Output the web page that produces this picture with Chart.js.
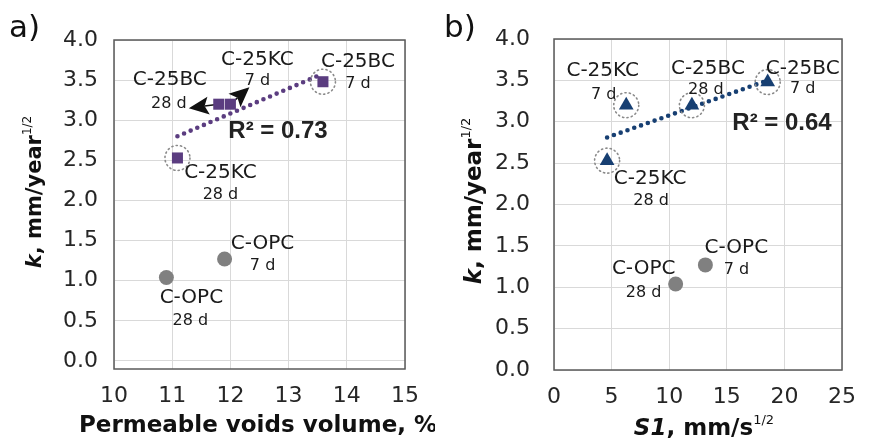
<!DOCTYPE html>
<html><head><meta charset="utf-8">
<script src="https://cdn.jsdelivr.net/npm/chart.js@4"></script>
<style>
html,body{margin:0;padding:0;background:#fff;}
#wrap{position:relative;width:870px;height:443px;overflow:hidden;}
.box{position:absolute;top:0;width:435px;height:443px;}
#boxA{left:0;} #boxB{left:435px;}
</style></head><body>
<div id="wrap">
  <div class="box" id="boxA"><canvas id="cA"></canvas></div>
  <div class="box" id="boxB"><canvas id="cB"></canvas></div>
</div>
<script>
// ---------------- data ----------------
const yTickValues = [0, 0.5, 1, 1.5, 2, 2.5, 3, 3.5, 4];
const yTickLabels = ['0.0','0.5','1.0','1.5','2.0','2.5','3.0','3.5','4.0'];
const xTickValuesA = [10, 11, 12, 13, 14, 15];
const xTickLabelsA = ['10','11','12','13','14','15'];
const xTickValuesB = [0, 5, 10, 15, 20, 25];
const xTickLabelsB = ['0','5','10','15','20','25'];

// C-25 series: order KC 28 d, BC 28 d, KC 7 d, BC 7 d
const c25Names = ['C-25KC', 'C-25BC', 'C-25KC', 'C-25BC'];
const c25Ages  = ['28 d', '28 d', '7 d', '7 d'];
const c25K     = [2.53, 3.20, 3.20, 3.48];
const c25Voids = [11.09, 11.80, 12.00, 13.59];
const c25S1    = [4.61, 11.97, 6.27, 18.55];

// C-OPC series: order 28 d, 7 d
const opcNames = ['C-OPC', 'C-OPC'];
const opcAges  = ['28 d', '7 d'];
const opcK     = [1.04, 1.27];
const opcVoids = [10.90, 11.90];
const opcS1    = [10.56, 13.14];

// trend lines (end points)
const trendVoidsX = [11.09, 13.59];
const trendVoidsK = [2.80, 3.58];
const trendS1X = [4.61, 18.55];
const trendS1K = [2.81, 3.50];

const r2TextA = 'R² = 0.73';
const r2TextB = 'R² = 0.64';

// ---------------- styling / annotation layout ----------------
const FONT = '"DejaVu Sans", "Liberation Sans", sans-serif';
const PURPLE = '#5b3d80';
const NAVY = '#173f72';
const GREY = '#808080';
Chart.defaults.font.family = FONT;

function pts(xs, ys){ return xs.map((x, i) => ({x: x, y: ys[i]})); }

const annotPlugin = {
  id: 'annot',
  beforeDatasetsDraw(chart){
    const c = chart.options.plugins.annot;
    const {ctx, chartArea: a} = chart;
    const xs = chart.scales.x, ys = chart.scales.y;
    ctx.save();
    ctx.strokeStyle = '#5a5a5a'; ctx.lineWidth = 1.5;
    ctx.strokeRect(a.left, a.top, a.right - a.left, a.bottom - a.top);
    ctx.restore();
    (c.arrows || []).forEach(ar => {
      const px = xs.getPixelForValue(c.groups[0].x[ar.i]);
      const py = ys.getPixelForValue(c.groups[0].k[ar.i]);
      const tx = px + ar.dx, ty = py + ar.dy;
      const ang = Math.atan2(ty - py, tx - px);
      const L = 20, W = 9;
      const cs = Math.cos(ang), sn = Math.sin(ang);
      const bx = tx - cs * L, by = ty - sn * L;
      const nx = tx - cs * L * 0.8, ny = ty - sn * L * 0.8;
      ctx.save();
      ctx.strokeStyle = '#111'; ctx.lineWidth = 1.5;
      ctx.beginPath(); ctx.moveTo(px, py); ctx.lineTo(nx, ny); ctx.stroke();
      ctx.fillStyle = '#111';
      ctx.beginPath();
      ctx.moveTo(tx, ty);
      ctx.lineTo(bx - sn * W, by + cs * W);
      ctx.lineTo(nx, ny);
      ctx.lineTo(bx + sn * W, by - cs * W);
      ctx.closePath(); ctx.fill();
      ctx.restore();
    });
  },
  beforeDatasetDraw(chart, args){
    if (args.meta && chart.data.datasets[args.index].ring){
      chart.ctx.save();
      chart.ctx.setLineDash([1.2, 3.2]);
      chart.ctx.lineCap = 'round';
    }
  },
  afterDatasetDraw(chart, args){
    if (args.meta && chart.data.datasets[args.index].ring){
      chart.ctx.restore();
    }
  },
  afterDraw(chart){
    const c = chart.options.plugins.annot;
    const {ctx, chartArea: a} = chart;
    const xs = chart.scales.x, ys = chart.scales.y;
    ctx.save();
    ctx.fillStyle = '#1a1a1a';
    ctx.textAlign = 'center'; ctx.textBaseline = 'middle';
    c.groups.forEach(g => {
      g.x.forEach((xv, i) => {
        const px = xs.getPixelForValue(xv), py = ys.getPixelForValue(g.k[i]);
        const o = g.off[i];
        ctx.font = '20px ' + FONT;
        ctx.fillText(g.names[i], px + o[0], py + o[1]);
        ctx.font = '16px ' + FONT;
        ctx.fillText(g.ages[i], px + o[2], py + o[3]);
      });
    });
    // R squared
    ctx.font = 'bold 24px "Liberation Sans", Arial, sans-serif';
    ctx.fillStyle = '#222';
    ctx.fillText(c.r2.text, a.left + c.r2.dx, a.top + c.r2.dy);
    // panel letter
    ctx.textAlign = 'left'; ctx.textBaseline = 'alphabetic';
    ctx.fillStyle = '#111';
    ctx.font = '31px ' + FONT;
    ctx.fillText(c.panel.text, c.panel.x, c.panel.y);
    // axis titles
    drawRuns(ctx, c.xTitle.runs, c.xTitle.x, c.xTitle.y, 0);
    drawRuns(ctx, c.yTitle.runs, c.yTitle.x, c.yTitle.y, -Math.PI / 2);
    ctx.restore();
  }
};

function drawRuns(ctx, runs, cx, cy, rot){
  ctx.save();
  ctx.translate(cx, cy); ctx.rotate(rot);
  ctx.textAlign = 'left'; ctx.textBaseline = 'alphabetic';
  ctx.fillStyle = '#111';
  let total = 0;
  runs.forEach(r => { ctx.font = r.font; r.w = ctx.measureText(r.t).width; total += r.w; });
  let x = -total / 2;
  runs.forEach(r => { ctx.font = r.font; ctx.fillText(r.t, x, r.dy || 0); x += r.w; });
  ctx.restore();
}

function makeChart(canvasId, o){
  const tickFont = {family: FONT, size: 22};
  return new Chart(document.getElementById(canvasId), {
    type: 'scatter',
    data: {
      datasets: [
        {data: pts(o.c25X, c25K), pointStyle: o.style, pointRadius: o.radius,
         backgroundColor: o.color, borderColor: o.color, borderWidth: 0},
        {data: pts(o.opcX, opcK), pointStyle: 'circle', pointRadius: 7.5,
         backgroundColor: GREY, borderColor: GREY, borderWidth: 0},
        {ring: true, data: pts(o.c25X, c25K), pointStyle: 'circle', pointRadius: o.rings,
         backgroundColor: 'rgba(0,0,0,0)', borderColor: '#8a8a8a', borderWidth: 1.6},
        {data: pts(o.trendX, o.trendK), showLine: true, pointRadius: 0,
         borderColor: o.color, borderWidth: 4.6, borderDash: [0, 7.2], borderCapStyle: 'round', fill: false}
      ]
    },
    options: {
      responsive: true, maintainAspectRatio: false, animation: false, events: [],
      devicePixelRatio: 1,
      layout: {padding: o.padding},
      plugins: {
        legend: {display: false}, tooltip: {enabled: false},
        annot: o.annot
      },
      scales: {
        x: {
          type: 'linear', min: o.xMin, max: o.xMax,
          afterBuildTicks: s => { s.ticks = o.xTicks.map(v => ({value: v})); },
          afterFit: s => { s.height = o.xHeight; },
          ticks: {font: tickFont, color: '#262626', padding: 14, autoSkip: false, maxRotation: 0,
                  callback: v => o.xLabels[o.xTicks.indexOf(v)]},
          grid: {color: '#d9d9d9', lineWidth: 1, drawTicks: false},
          border: {display: false}
        },
        y: {
          type: 'linear', min: o.yMin, max: 4,
          afterBuildTicks: s => { s.ticks = yTickValues.map(v => ({value: v})); },
          afterFit: s => { s.width = o.yWidth; },
          ticks: {font: tickFont, color: '#262626', padding: o.yPad, autoSkip: false,
                  callback: v => yTickLabels[yTickValues.indexOf(v)]},
          grid: {color: '#d9d9d9', lineWidth: 1, drawTicks: false},
          border: {display: false}
        }
      }
    },
    plugins: [annotPlugin]
  });
}

makeChart('cA', {
  c25X: c25Voids, opcX: opcVoids, trendX: trendVoidsX, trendK: trendVoidsK,
  style: 'rect', radius: 7.8, color: PURPLE, rings: [12.5, 0, 0, 12.5],
  xMin: 10, xMax: 15, xTicks: xTickValuesA, xLabels: xTickLabelsA, yMin: -0.1,
  padding: {left: 0, right: 30, top: 40, bottom: 0}, yWidth: 114, xHeight: 74, yPad: 16,
  annot: {
    groups: [
      {x: c25Voids, k: c25K, names: c25Names, ages: c25Ages,
       off: [[43, 14.5, 43, 37], [-49, -24, -50, 0], [27, -44, 27, -23], [35, -20, 35, 2]]},
      {x: opcVoids, k: opcK, names: opcNames, ages: opcAges,
       off: [[25, 20.5, 24, 43.5], [38, -15, 38, 7]]}
    ],
    arrows: [{i: 1, dx: -30, dy: 4}, {i: 2, dx: 19, dy: -17}],
    r2: {text: r2TextA, dx: 164, dy: 91.5},
    panel: {text: 'a)', x: 9, y: 37},
    xTitle: {x: 258, y: 432, runs: [{t: 'Permeable voids volume, %', font: 'bold 23px ' + FONT}]},
    yTitle: {x: 41, y: 192, runs: [
      {t: 'k', font: 'italic bold 21px ' + FONT},
      {t: ', mm/year', font: 'bold 21px ' + FONT},
      {t: '1/2', font: '12px ' + FONT, dy: -10}]}
  }
});

makeChart('cB', {
  c25X: c25S1, opcX: opcS1, trendX: trendS1X, trendK: trendS1K,
  style: 'triangle', radius: 8.5, color: NAVY, rings: [12.5, 12.5, 12.5, 12.5],
  xMin: 0, xMax: 25, xTicks: xTickValuesB, xLabels: xTickLabelsB, yMin: 0,
  padding: {left: 0, right: 16, top: 39, bottom: 0}, yWidth: 119, xHeight: 73, yPad: 24,
  annot: {
    groups: [
      {x: c25S1, k: c25K, names: c25Names, ages: c25Ages,
       off: [[43, 18.5, 44, 40], [16, -36, 14, -15], [-23.5, -34.7, -22.5, -10], [35, -13, 35, 7]]},
      {x: opcS1, k: opcK, names: opcNames, ages: opcAges,
       off: [[-32, -15, -32, 8.6], [31, -17.4, 31, 5]]}
    ],
    arrows: [],
    r2: {text: r2TextB, dx: 228, dy: 84.5},
    panel: {text: 'b)', x: 9, y: 37},
    xTitle: {x: 269, y: 435, runs: [
      {t: 'S1', font: 'italic bold 23px ' + FONT},
      {t: ', mm/s', font: 'bold 23px ' + FONT},
      {t: '1/2', font: '13px ' + FONT, dy: -11}]},
    yTitle: {x: 46, y: 201, runs: [
      {t: 'k', font: 'italic bold 23px ' + FONT},
      {t: ', mm/year', font: 'bold 23px ' + FONT},
      {t: '1/2', font: '13px ' + FONT, dy: -11}]}
  }
});
</script>
</body></html>
